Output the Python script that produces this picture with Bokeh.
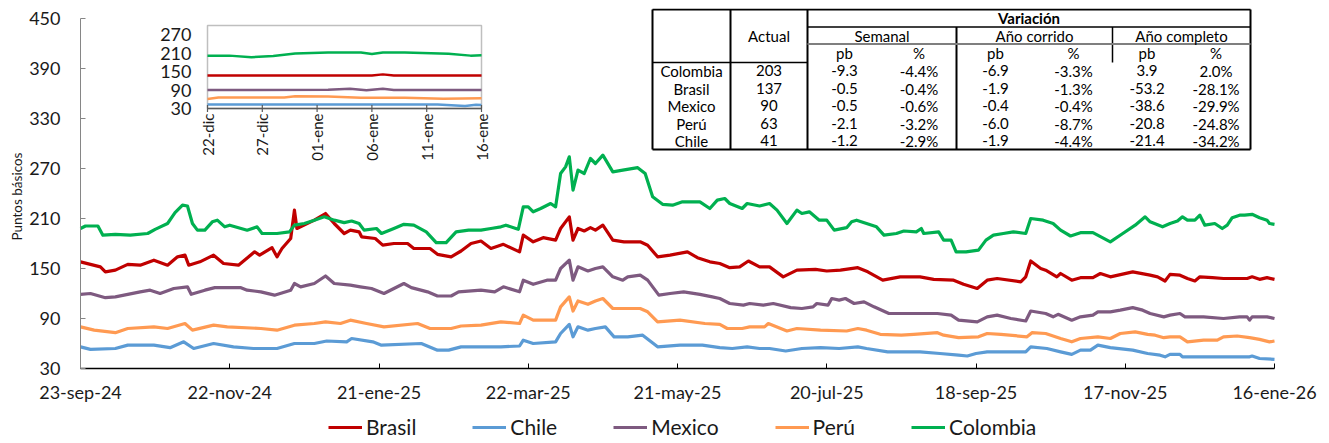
import math
from bokeh.plotting import figure
from bokeh.models import Range1d, FixedTicker, Legend, LegendItem, Title
from bokeh.core.properties import value
from bokeh.embed import file_html
from bokeh.resources import INLINE

FONT = "Lato"

# ---------------- data: main chart (days since 23-sep-24) ----------------
main_tick_days = [0, 60, 120, 180, 240, 300, 360, 420, 480]
main_tick_labels = ["23-sep-24", "22-nov-24", "21-ene-25", "22-mar-25", "21-may-25",
                    "20-jul-25", "18-sep-25", "17-nov-25", "16-ene-26"]
y_ticks = [30, 90, 150, 210, 270, 330, 390, 450]

brasil_days = [0, 8, 10, 14, 19, 24, 29.5, 35, 39, 42, 43.5, 48, 53.5, 57.5, 63.5, 70, 72, 77, 79, 81, 84.5, 86, 87, 94, 98.5, 102, 106, 108.5, 112, 113, 118.5, 121.5, 126, 131.5, 134, 140.5, 143.5, 149, 153, 157, 161, 165, 170, 176.5, 178, 182, 186, 191, 193, 196.5, 198, 200, 202.5, 205, 207, 210, 214, 218.5, 225, 228, 232, 237, 244, 248, 253, 257, 261, 265, 268.5, 273, 277, 282.5, 288, 295.5, 300, 305.5, 312.5, 316.5, 322.5, 329.5, 337.5, 343, 351, 355, 360.5, 364.5, 368.5, 378, 380, 382, 386, 388, 392.5, 394, 398.5, 402, 407, 410, 414, 423, 430, 433, 436, 438, 442, 445, 448, 450, 455, 459.5, 465, 469, 471, 474, 477, 480]
brasil_vals = [158, 152, 146, 148, 155, 154, 160, 154, 164, 166, 154, 158, 166, 156, 154, 170, 166, 175, 164, 174, 186, 220, 198, 208, 216, 204, 192, 196, 194, 188, 186, 178, 180, 180, 174, 174, 167, 164, 171, 180, 183, 174, 179, 170, 190, 182, 187, 184, 198, 212, 184, 198, 195, 199, 196, 202, 184, 182, 182, 178, 164, 166, 170, 163, 158, 156, 151, 152, 159, 152, 152, 140, 148, 149, 147, 148, 151, 146, 136, 140, 140, 137, 136, 131, 126, 136, 138, 134, 140, 159, 150, 148, 140, 144, 136, 139, 139, 144, 140, 146, 142, 140, 135, 143, 142, 138, 135, 140, 139, 138, 138, 138, 140, 137, 139, 137]

chile_days = [0, 4, 14, 19, 29.5, 36, 41.5, 45.5, 53.5, 61.5, 69.5, 79, 86, 94, 99, 107, 109, 117.5, 121, 137, 143.5, 148, 153, 161, 169, 176.5, 178, 182, 191, 193, 196.5, 198, 200, 204, 207, 211, 214.5, 220, 226, 232, 241, 250, 257, 262, 268, 273, 277, 283.5, 290, 297.5, 305, 312.5, 316, 324.5, 337.5, 345.5, 353, 356.5, 360, 364.5, 380, 382, 388.5, 394, 398.5, 402, 406, 409, 414, 423, 429, 434, 436, 438, 442, 443, 451.5, 470, 471, 474, 480]
chile_vals = [56, 53, 54, 58, 58, 55, 62, 54, 60, 56, 54, 54, 60, 60, 63, 62, 66, 62, 58, 60, 52, 52, 56, 56, 56, 57, 64, 60, 62, 72, 83, 68, 80, 76, 78, 80, 68, 68, 70, 56, 58, 58, 55, 54, 56, 54, 54, 51, 54, 55, 54, 56, 54, 50, 50, 48, 46, 45, 48, 50, 50, 56, 54, 50, 47, 52, 52, 58, 55, 52, 48, 46, 44, 47, 47, 44, 44, 44, 45, 42, 41]

mexico_days = [0, 4, 10, 14, 24, 28, 32, 37.5, 43, 44.5, 50, 54, 64.5, 67, 72.5, 78, 84.5, 86, 88.5, 94, 98.5, 102, 108.5, 112.5, 117, 122, 126, 130, 133, 139.5, 143.5, 149, 152, 161, 166.5, 170, 176.5, 178, 182, 187.5, 191, 193, 196.5, 198, 200, 204, 207, 210, 214, 218, 220, 225, 228, 232.5, 237, 242.5, 249, 254, 257, 261, 266.5, 269, 274.5, 278.5, 285.5, 290, 294.5, 296, 300.5, 302, 305, 307.5, 311, 315, 319, 325, 330, 337.5, 344.5, 350, 353, 360.5, 364.5, 368.5, 374, 380, 382, 388, 391, 393, 398.5, 402, 407, 409, 414, 418, 423, 427, 430, 435.5, 438, 442, 444, 451.5, 459.5, 466, 469, 470, 471, 477, 480]
mexico_vals = [119, 120, 115, 116, 122, 124, 120, 126, 128, 119, 124, 127, 127, 124, 122, 118, 124, 132, 128, 132, 141, 132, 130, 128, 126, 120, 126, 132, 127, 122, 117, 117, 122, 124, 122, 128, 122, 136, 131, 136, 136, 150, 160, 136, 152, 147, 150, 152, 140, 136, 140, 142, 136, 118, 120, 122, 119, 116, 114, 108, 106, 108, 106, 108, 103, 102, 104, 108, 106, 114, 112, 114, 108, 110, 104, 96, 96, 96, 96, 94, 88, 86, 92, 94, 90, 87, 99, 96, 92, 95, 88, 92, 94, 98, 98, 100, 103, 100, 96, 92, 94, 96, 92, 92, 90, 92, 92, 88, 92, 92, 90]

peru_days = [0, 5.5, 14, 19, 29.5, 35, 42, 45, 53.5, 59, 72.5, 79, 86, 94, 98.5, 104.5, 108.5, 115, 122, 135.5, 140.5, 149, 153, 161, 169, 176.5, 178, 182, 191, 193, 196.5, 198, 200, 204, 207, 210, 214, 220, 225, 228, 232, 241, 251, 257, 260, 266, 269, 275, 276.5, 284, 288, 297.5, 308, 312.5, 316, 321.5, 330, 335, 344.5, 347, 353, 361, 364.5, 370, 380.5, 382.5, 388, 394, 398.5, 402, 409, 414, 418, 424, 429, 432, 435.5, 438, 442, 445, 451.5, 457, 459.5, 465, 470, 474, 478, 480]
peru_vals = [80, 76, 73, 78, 80, 78, 84, 76, 82, 80, 78, 76, 82, 84, 86, 84, 88, 84, 80, 84, 78, 78, 81, 82, 86, 84, 94, 88, 88, 104, 116, 99, 111, 107, 111, 114, 102, 102, 102, 98, 86, 88, 84, 83, 78, 78, 80, 80, 84, 75, 78, 76, 75, 78, 76, 71, 70, 71, 73, 70, 67, 68, 72, 71, 68, 73, 72, 66, 62, 66, 68, 66, 72, 74, 71, 70, 67, 68, 68, 62, 64, 64, 68, 69, 67, 65, 62, 63]

colombia_days = [0, 2, 7, 9, 14, 20, 27, 30, 35, 38, 41, 43, 45, 47, 50, 53, 55, 58, 60, 67, 71, 73, 79, 84, 86, 90, 94, 98, 102, 106, 109, 112, 114, 119, 121, 126, 130, 134, 139, 143, 147, 151, 156, 161, 165, 169, 171, 175, 176, 178, 180, 182, 185, 189, 191, 193, 195, 196.5, 198, 200, 202.5, 205, 207, 210, 214, 218, 224, 227, 230, 234, 238, 242, 249, 253, 256, 259, 261, 266, 268, 273, 277, 280, 284, 288, 290, 293, 297, 300, 303, 308, 310, 312, 316, 320, 323, 328, 331, 336, 338, 339, 345, 347, 350, 352, 356, 361, 364, 367, 371, 375, 380, 382, 387, 391, 394, 398, 402, 407, 414, 419, 424, 428, 430, 435, 438, 441, 443, 445, 448, 450, 452, 456, 459, 461, 463, 466, 468, 471, 474, 477, 478, 480]
colombia_vals = [198, 201, 201, 190, 191, 190, 192, 197, 204, 217, 226, 225, 204, 196, 196, 206, 208, 200, 202, 196, 200, 192, 192, 194, 202, 204, 208, 212, 208, 205, 207, 204, 196, 198, 192, 198, 203, 202, 194, 181, 181, 194, 196, 196, 198, 200, 202, 198, 197, 224, 224, 218, 222, 228, 224, 264, 272, 284, 244, 268, 264, 282, 276, 286, 266, 268, 271, 264, 236, 227, 226, 230, 230, 222, 232, 234, 228, 222, 228, 225, 228, 220, 204, 220, 216, 218, 208, 208, 196, 199, 206, 208, 204, 200, 190, 192, 195, 194, 198, 192, 194, 184, 184, 170, 170, 172, 184, 190, 192, 194, 192, 210, 208, 204, 196, 189, 193, 193, 182, 192, 202, 212, 206, 200, 204, 207, 212, 208, 208, 214, 202, 204, 198, 202, 211, 214, 214, 215, 211, 208, 204, 203]

# ---------------- data: inset (days since 22-dic-25) ----------------
inset_tick_days = [0, 5, 10, 15, 20, 25]
inset_tick_labels = ["22-dic", "27-dic", "01-ene", "06-ene", "11-ene", "16-ene"]
inset_y_ticks = [30, 90, 150, 210, 270]

in_colombia_days = [0, 2, 4, 6, 8, 11, 14, 15, 16, 18, 22, 24, 25]
in_colombia_vals = [202, 202, 197, 201, 209, 212, 212, 207, 212, 212, 208, 202, 203]
in_brasil_days = [0, 15, 16, 17, 25]
in_brasil_vals = [137, 137, 141, 137, 137]
in_mexico_days = [0, 11, 13, 14.5, 16, 17, 25]
in_mexico_vals = [90, 91, 94, 89, 94, 90, 90]
in_peru_days = [0, 1, 7, 8, 11, 14, 18, 21.5, 25]
in_peru_vals = [61, 66, 66, 70, 69, 65, 65, 62, 63]
in_chile_days = [0, 21, 23.5, 24.5, 25]
in_chile_vals = [43, 43, 38, 42, 41]

# ---------------- data: table ----------------
countries = ["Colombia", "Brasil", "Mexico", "Perú", "Chile"]
actual = [203, 137, 90, 63, 41]
sem_pb = [-9.3, -0.5, -0.5, -2.1, -1.2]
sem_pct = [-4.4, -0.4, -0.6, -3.2, -2.9]
ytd_pb = [-6.9, -1.9, -0.4, -6.0, -1.9]
ytd_pct = [-3.3, -1.3, -0.4, -8.7, -4.4]
yoy_pb = [3.9, -53.2, -38.6, -20.8, -21.4]
yoy_pct = [2.0, -28.1, -29.9, -24.8, -34.2]

# ---------------- colours ----------------
C_BRASIL = "#C00000"
C_CHILE = "#5B9BD5"
C_MEXICO = "#7E5A80"
C_PERU = "#FF9A52"
C_COLOMBIA = "#00B050"

# ---------------- layout (picture pixels) ----------------
W, H = 1321, 441
FRAME_L, FRAME_R, FRAME_T, FRAME_B = 26, 1321, 8, 441
AXIS_Y_PX, TOP_TICK_PX = 368, 18          # where y=30 and y=450 sit
AXIS_X0_PX, AXIS_X1_PX = 80, 1274         # where day 0 and day 480 sit
INSET_L, INSET_R, INSET_T, INSET_B = 207, 481, 25, 108

upp = (y_ticks[-1] - y_ticks[0]) / (AXIS_Y_PX - TOP_TICK_PX)
y_start = y_ticks[0] - (FRAME_B - AXIS_Y_PX) * upp
y_end = y_ticks[-1] + (TOP_TICK_PX - FRAME_T) * upp
dpp = (main_tick_days[-1] - main_tick_days[0]) / (AXIS_X1_PX - AXIS_X0_PX)
x_start = main_tick_days[0] - (AXIS_X0_PX - FRAME_L) * dpp
x_end = main_tick_days[-1] + (FRAME_R - AXIS_X1_PX) * dpp

p = figure(output_backend="svg", toolbar_location=None, title=None,
           width=W, height=H,
           x_range=Range1d(x_start, x_end), y_range=Range1d(y_start, y_end),
           frame_width=FRAME_R - FRAME_L, frame_height=FRAME_B - FRAME_T,
           min_border_left=FRAME_L, min_border_right=W - FRAME_R,
           min_border_top=FRAME_T, min_border_bottom=0)
p.outline_line_color = None
p.xgrid.visible = False
p.ygrid.visible = False
p.background_fill_color = "white"

# extra ranges: inset coordinates and table (pixel) coordinates
ppd = (INSET_R - INSET_L) / (inset_tick_days[-1] - inset_tick_days[0])
ppv = (INSET_B - INSET_T) / (300 - 30)
p.extra_x_ranges = {
    "ix": Range1d(0 - (INSET_L - FRAME_L) / ppd, 25 + (FRAME_R - INSET_R) / ppd),
    "px": Range1d(FRAME_L, FRAME_R),
}
p.extra_y_ranges = {
    "iy": Range1d(30 - (FRAME_B - INSET_B) / ppv, 300 + (INSET_T - FRAME_T) / ppv),
    "py": Range1d(FRAME_B, FRAME_T),
}

# axes (drawn at fixed data locations inside the frame)
xa = p.xaxis[0]
xa.fixed_location = y_ticks[0]
xa.bounds = (main_tick_days[0], main_tick_days[-1])
xa.ticker = FixedTicker(ticks=main_tick_days)
xa.major_label_overrides = {d: l for d, l in zip(main_tick_days, main_tick_labels)}
xa.axis_line_color = "#000000"
xa.axis_line_width = 1.5
xa.major_tick_in = 5
xa.major_tick_out = 0
xa.major_tick_line_color = "#000000"
xa.minor_tick_line_color = None
xa.major_label_standoff = 12
xa.major_label_text_font = FONT
xa.major_label_text_font_size = "18px"
xa.major_label_text_color = "#1a1a1a"

ya = p.yaxis[0]
ya.fixed_location = main_tick_days[0]
ya.ticker = FixedTicker(ticks=y_ticks)
ya.bounds = (y_ticks[0], y_ticks[-1])
ya.axis_line_color = "#868686"
ya.major_tick_in = 5
ya.major_tick_out = 0
ya.major_tick_line_color = "#868686"
ya.minor_tick_line_color = None
ya.major_label_standoff = 20
ya.major_label_text_font = FONT
ya.major_label_text_font_size = "18px"
ya.major_label_text_color = "#1a1a1a"

p.add_layout(Title(text="Puntos básicos", align="left", offset=FRAME_B - 240,
                   text_font=FONT, text_font_size="13.5px", text_font_style="normal",
                   text_color="#1a1a1a", standoff=4), "left")

# main lines
series = [
    ("Brasil", brasil_days, brasil_vals, C_BRASIL),
    ("Chile", chile_days, chile_vals, C_CHILE),
    ("Mexico", mexico_days, mexico_vals, C_MEXICO),
    ("Perú", peru_days, peru_vals, C_PERU),
    ("Colombia", colombia_days, colombia_vals, C_COLOMBIA),
]
items = []
for name, d, v, c in series:
    r = p.line(d, v, line_color=c, line_width=3.2, line_join="round")
    items.append(LegendItem(label=name, renderers=[r]))

legend = Legend(items=items, orientation="horizontal", location=(328 - FRAME_L, FRAME_B - 439),
                glyph_width=34, glyph_height=20, label_height=20, label_standoff=4,
                spacing=56, padding=0, margin=0, border_line_color=None,
                background_fill_alpha=0, label_text_font=FONT,
                label_text_font_size="21px", label_text_color="#1a1a1a")
p.add_layout(legend)

# ---------------- inset ----------------
ik = dict(x_range_name="ix", y_range_name="iy")
p.quad(left=[inset_tick_days[0]], right=[inset_tick_days[-1]], bottom=[30], top=[300],
       fill_color="white", line_color="#BFBFBF", line_width=1.5, **ik)
inset_series = [
    (in_brasil_days, in_brasil_vals, C_BRASIL),
    (in_chile_days, in_chile_vals, C_CHILE),
    (in_mexico_days, in_mexico_vals, C_MEXICO),
    (in_peru_days, in_peru_vals, C_PERU),
    (in_colombia_days, in_colombia_vals, C_COLOMBIA),
]
for d, v, c in inset_series:
    p.line(d, v, line_color=c, line_width=2.5, **ik)
p.segment(x0=[inset_tick_days[0]], y0=[30], x1=[inset_tick_days[-1]], y1=[30],
          line_color="#595959", line_width=1.5, **ik)
p.scatter(x=inset_tick_days, y=[30] * len(inset_tick_days), marker="dash", angle=math.pi / 2,
          size=7, line_color="#595959", line_width=1.2, **ik)
p.text(x=[inset_tick_days[0]] * len(inset_y_ticks), y=inset_y_ticks,
       text=[str(t) for t in inset_y_ticks], x_offset=-16, text_align="right",
       text_baseline="middle", text_font=value(FONT), text_font_size="18px",
       text_color="#1a1a1a", **ik)
p.text(x=inset_tick_days, y=[30] * len(inset_tick_days), text=inset_tick_labels,
       angle=math.pi / 2, y_offset=5, text_align="right", text_baseline="middle",
       text_font=value(FONT), text_font_size="15px", text_color="#1a1a1a", **ik)

# ---------------- table (pixel coordinates) ----------------
tk = dict(x_range_name="px", y_range_name="py")
cols = [652, 730, 807, 881, 956, 1034, 1112, 1181, 1250]
T_TOP, T_R1, T_R2, T_HDR, T_BOT = 9, 26.5, 43.5, 62, 149
row_y = [70, 88, 105, 123, 140]

p.segment(x0=[cols[0], cols[-1], cols[0], cols[0], cols[1], cols[2], cols[4]],
          y0=[T_TOP, T_TOP, T_TOP, T_BOT, T_TOP, T_TOP, T_R1],
          x1=[cols[-1], cols[-1], cols[0], cols[-1], cols[1], cols[2], cols[4]],
          y1=[T_TOP, T_BOT, T_BOT, T_BOT, T_BOT, T_BOT, T_BOT],
          line_color="#000000", line_width=2, **tk)
p.segment(x0=[cols[2], cols[0], cols[6]], y0=[T_R1, T_HDR, T_R1],
          x1=[cols[-1], cols[2], cols[6]], y1=[T_R1, T_HDR, T_HDR],
          line_color="#000000", line_width=1.5, **tk)
p.segment(x0=[cols[2]], y0=[T_R2], x1=[cols[-1]], y1=[T_R2],
          line_color="#7F7F7F", line_width=2, **tk)

tfont = dict(text_font=value(FONT), text_font_size="15px", text_color="#000000",
             text_align="center", text_baseline="middle")
p.text(x=[(cols[2] + cols[-1]) / 2], y=[(T_TOP + T_R1) / 2], text=["Variación"],
       text_font_style="bold", **tfont, **tk)
p.text(x=[(cols[2] + cols[4]) / 2, (cols[4] + cols[6]) / 2, (cols[6] + cols[8]) / 2],
       y=[(T_R1 + T_R2) / 2] * 3, text=["Semanal", "Año corrido", "Año completo"], **tfont, **tk)
sub_x = [(cols[i] + cols[i + 1]) / 2 for i in range(2, 8)]
p.text(x=sub_x, y=[(T_R2 + T_HDR) / 2] * 6, text=["pb", "%"] * 3, **tfont, **tk)
p.text(x=[(cols[1] + cols[2]) / 2], y=[(T_TOP + T_HDR) / 2], text=["Actual"], **tfont, **tk)

p.text(x=[(cols[0] + cols[1]) / 2] * len(countries), y=row_y, text=countries, **tfont, **tk)
p.text(x=[(cols[1] + cols[2]) / 2] * len(countries), y=row_y, text=[str(a) for a in actual], **tfont, **tk)
for k, (vals, pct) in enumerate([(sem_pb, False), (sem_pct, True), (ytd_pb, False),
                                 (ytd_pct, True), (yoy_pb, False), (yoy_pct, True)]):
    txt = [f"{v:.1f}%" if pct else f"{v:.1f}" for v in vals]
    p.text(x=[sub_x[k]] * len(vals), y=row_y, text=txt, **tfont, **tk)

open("out.html", "w").write(file_html(p, INLINE))
